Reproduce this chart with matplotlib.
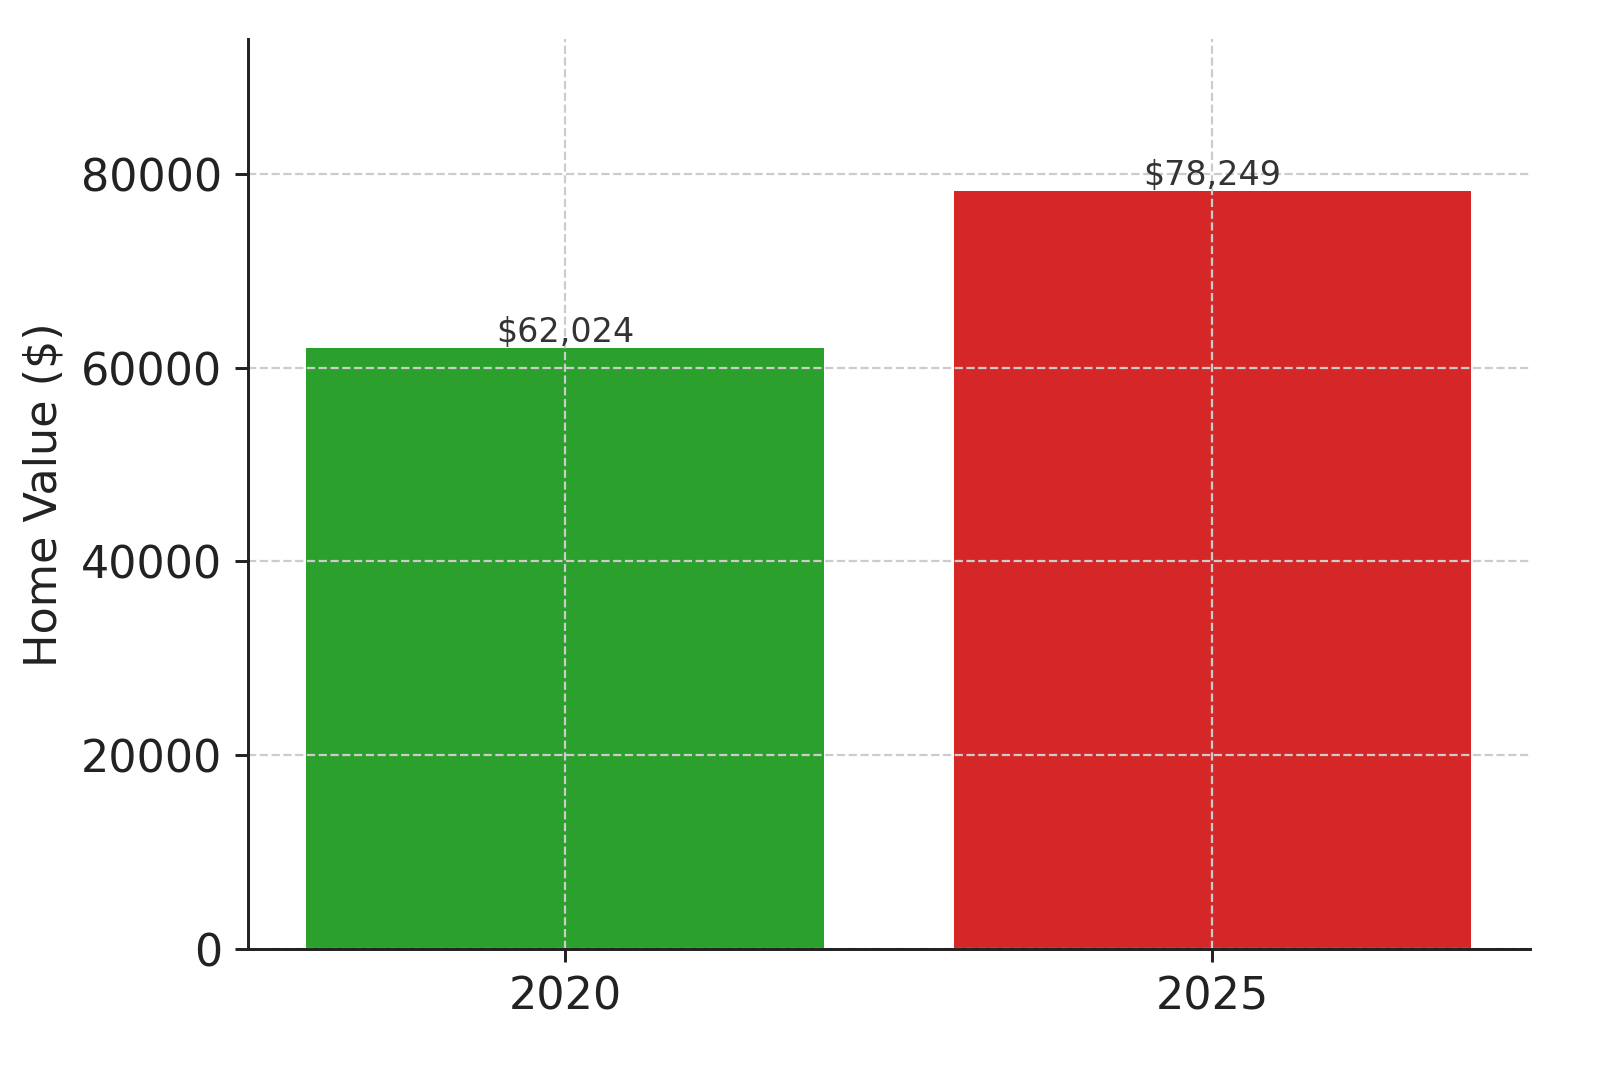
import matplotlib
matplotlib.use("Agg")
import matplotlib.pyplot as plt

years = ["2020", "2025"]
values = [62024, 78249]
colors = ["#2ca02c", "#d62728"]

fig = plt.figure(figsize=(6, 4), dpi=266.67)
ax = fig.add_axes([0.155, 0.11, 0.801, 0.8525])
bars = ax.bar(years, values, color=colors, width=0.8, zorder=2)
for b, v in zip(bars, values):
    ax.text(b.get_x() + b.get_width() / 2, v, f"${v:,}", ha="center", va="bottom",
            fontsize=9, color="#333333", zorder=3)
ax.set_ylim(0, max(values) * 1.2)
ax.set_xlim(-0.49, 1.49)
ax.set_yticks([0, 20000, 40000, 60000, 80000])
ax.set_ylabel("Home Value ($)", fontsize=12, color="#222222")
ax.tick_params(labelsize=12, colors="#222222")
ax.grid(True, linestyle="--", color="#cccccc", linewidth=0.6, zorder=3)
ax.set_axisbelow(False)
for s in ["top", "right"]:
    ax.spines[s].set_visible(False)
for s in ["left", "bottom"]:
    ax.spines[s].set_color("#222222")
    ax.spines[s].set_zorder(5)
fig.savefig("out.png")
